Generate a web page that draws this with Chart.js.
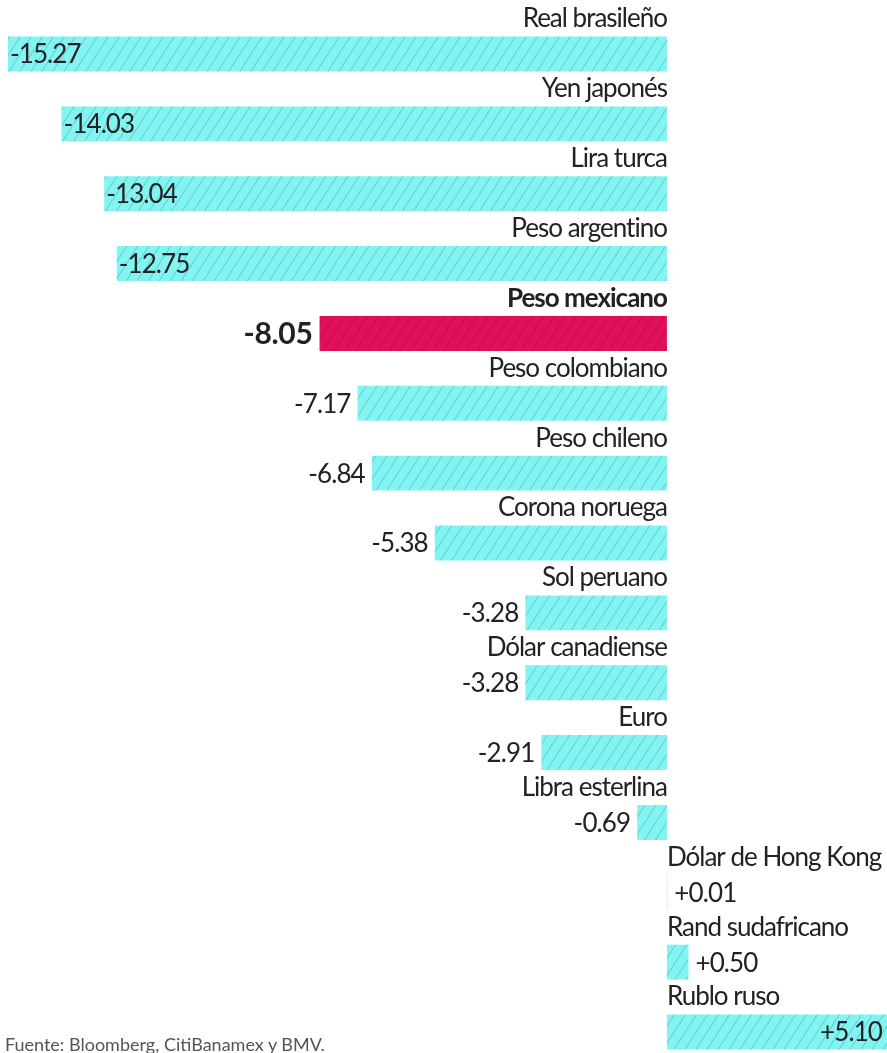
<!DOCTYPE html>
<html>
<head>
<meta charset="utf-8">
<script src="https://cdn.jsdelivr.net/npm/chart.js@4.4.1/dist/chart.umd.min.js"></script>
<style>
  html, body { margin: 0; padding: 0; background: #fff; overflow: hidden; }
  #wrap { position: relative; width: 887px; height: 1053px; }
  #note { position: absolute; left: 5px; top: 1033px; font: 18px Lato, sans-serif; color: #555; letter-spacing: 0px; }
</style>
</head>
<body>
<div id="wrap">
  <canvas id="fxChart"></canvas>
  <div id="note">Fuente: Bloomberg, CitiBanamex y BMV.</div>
</div>
<script>
// currencies vs dollar, % change
const currencies = ['Real brasileño', 'Yen japonés', 'Lira turca', 'Peso argentino', 'Peso mexicano',
    'Peso colombiano', 'Peso chileno', 'Corona noruega', 'Sol peruano', 'Dólar canadiense',
    'Euro', 'Libra esterlina', 'Dólar de Hong Kong', 'Rand sudafricano', 'Rublo ruso'];
const changes = [-15.27, -14.03, -13.04, -12.75, -8.05, -7.17, -6.84, -5.38, -3.28, -3.28, -2.91, -0.69, 0.01, 0.50, 5.10];
const highlight = 'Peso mexicano';

const CYAN = '#84f4f2';
const PINK = '#e0105a';

function hatch(bg, line) {
    const c = document.createElement('canvas');
    c.width = 11; c.height = 17;
    const g = c.getContext('2d');
    g.fillStyle = bg;
    g.fillRect(0, 0, 11, 17);
    g.strokeStyle = line;
    g.lineWidth = 1;
    [-11, 0, 11].forEach(o => {
        g.beginPath();
        g.moveTo(o, 17);
        g.lineTo(o + 11, 0);
        g.stroke();
    });
    return g.createPattern(c, 'repeat');
}

const cyanFill = hatch(CYAN, 'rgba(40,150,160,0.45)');
const pinkFill = hatch(PINK, 'rgba(150,0,50,0.4)');

function fmt(v) {
    return (v > 0 ? '+' : '') + v.toFixed(2);
}

const labelPlugin = {
    id: 'barLabels',
    afterDatasetsDraw(chart) {
        const ctx = chart.ctx;
        const meta = chart.getDatasetMeta(0);
        const zero = chart.scales.x.getPixelForValue(0);
        ctx.save();
        ctx.fillStyle = '#222';
        ctx.textBaseline = 'middle';
        meta.data.forEach((bar, i) => {
            const v = changes[i];
            const bold = currencies[i] === highlight;
            // currency name above the bar
            ctx.letterSpacing = '-1px';
            ctx.font = (bold ? 'bold ' : '') + '26px Lato, sans-serif';
            ctx.textAlign = v < 0 ? 'right' : 'left';
            ctx.fillText(currencies[i], zero, bar.y - 35);
            // value
            ctx.letterSpacing = bold ? '-0.3px' : '-0.9px';
            ctx.font = (bold ? 'bold 30px' : '26px') + ' Lato, sans-serif';
            const txt = fmt(v);
            if (v < -10) {
                ctx.textAlign = 'left';
                ctx.fillText(txt, bar.x + 2, bar.y + 1);
            } else if (v < 0) {
                ctx.textAlign = 'right';
                ctx.fillText(txt, bar.x - 7, bar.y + 1);
            } else if (v > 2) {
                ctx.textAlign = 'right';
                ctx.fillText(txt, bar.x - 5, bar.y + 1);
            } else {
                ctx.textAlign = 'left';
                ctx.fillText(txt, Math.max(bar.x, zero) + 7, bar.y + 1);
            }
        });
        ctx.restore();
    }
};

new Chart(document.getElementById('fxChart'), {
    type: 'bar',
    data: {
        labels: currencies,
        datasets: [{
            data: changes,
            backgroundColor: currencies.map(c => c === highlight ? pinkFill : cyanFill),
            borderWidth: 0,
            barPercentage: 0.5,
            categoryPercentage: 1,
            clip: false
        }]
    },
    options: {
        indexAxis: 'y',
        responsive: true,
        maintainAspectRatio: false,
        animation: false,
        layout: { padding: { top: 54, bottom: 21, left: 8, right: 0 } },
        plugins: { legend: { display: false }, tooltip: { enabled: false } },
        scales: {
            x: { min: -15.27, max: 5.10, display: false },
            y: { display: false, offset: false }
        }
    },
    plugins: [labelPlugin]
});
</script>
</body>
</html>
